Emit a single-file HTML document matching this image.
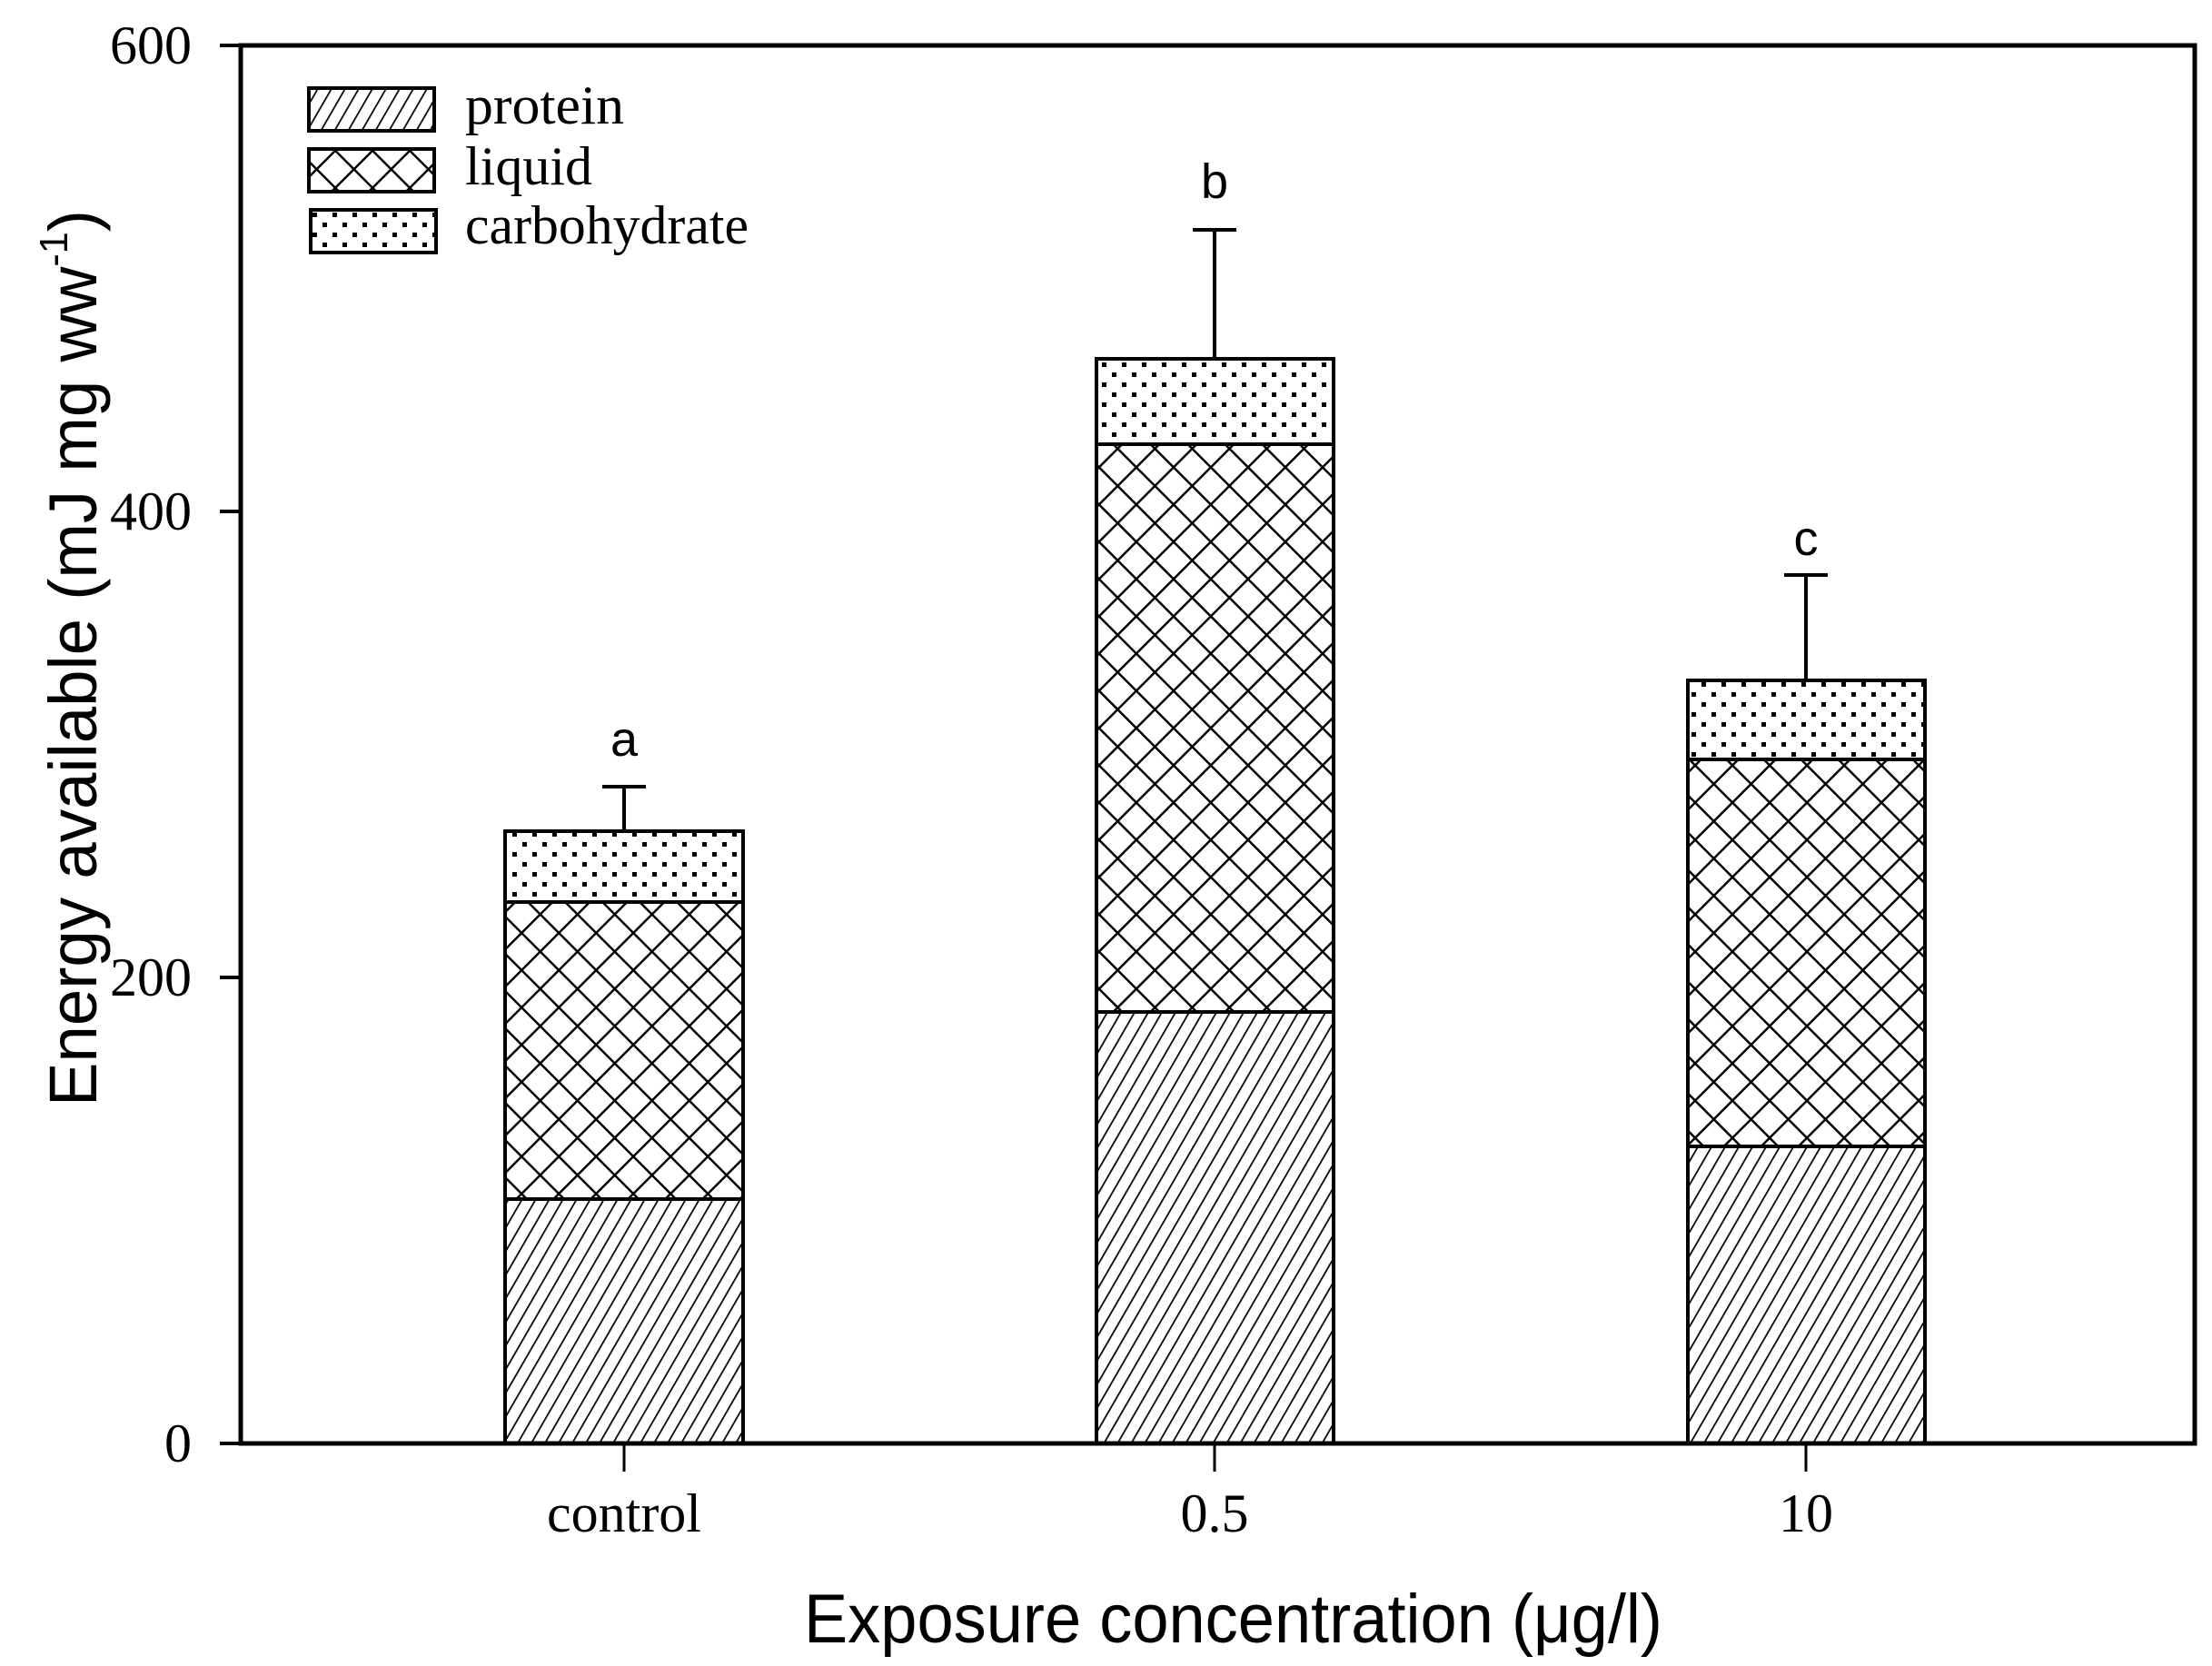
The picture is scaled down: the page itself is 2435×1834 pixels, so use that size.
<!DOCTYPE html>
<html><head><meta charset="utf-8"><style>html,body{margin:0;padding:0;background:#fff}</style></head>
<body>
<svg width="2435" height="1829" viewBox="0 0 2435 1829" xmlns="http://www.w3.org/2000/svg">
<defs>
<pattern id="hatch" patternUnits="userSpaceOnUse" width="13" height="20" patternTransform="rotate(30)">
<rect width="13" height="20" fill="#fff"/><line x1="0" y1="0" x2="0" y2="20" stroke="#000" stroke-width="3.5"/>
</pattern>
<pattern id="cross" patternUnits="userSpaceOnUse" width="29" height="29" patternTransform="rotate(45)">
<rect width="29" height="29" fill="#fff"/>
<line x1="0" y1="0" x2="29" y2="0" stroke="#000" stroke-width="5"/>
<line x1="0" y1="0" x2="0" y2="29" stroke="#000" stroke-width="5"/>
</pattern>
<pattern id="dots" patternUnits="userSpaceOnUse" width="22" height="22">
<rect width="22" height="22" fill="#fff"/>
<rect x="3" y="3" width="5" height="5" fill="#000"/>
<rect x="14" y="14" width="5" height="5" fill="#000"/>
</pattern>
</defs>
<g stroke="#000" stroke-width="4">
<rect x="556" y="1320" width="262" height="269" fill="url(#hatch)"/>
<rect x="556" y="993" width="262" height="327" fill="url(#cross)"/>
<rect x="556" y="915" width="262" height="78" fill="url(#dots)"/>
<rect x="1207" y="1114" width="261" height="475" fill="url(#hatch)"/>
<rect x="1207" y="489" width="261" height="625" fill="url(#cross)"/>
<rect x="1207" y="395" width="261" height="94" fill="url(#dots)"/>
<rect x="1858" y="1262" width="261" height="327" fill="url(#hatch)"/>
<rect x="1858" y="836" width="261" height="426" fill="url(#cross)"/>
<rect x="1858" y="749" width="261" height="87" fill="url(#dots)"/>
<line x1="687" y1="915" x2="687" y2="866"/><line x1="663" y1="866" x2="711" y2="866"/>
<line x1="1337" y1="395" x2="1337" y2="253"/><line x1="1313" y1="253" x2="1361" y2="253"/>
<line x1="1988" y1="749" x2="1988" y2="633"/><line x1="1964" y1="633" x2="2012" y2="633"/>
<rect x="265" y="50" width="2151" height="1539" fill="none" stroke-width="5"/>
<line x1="242" y1="50" x2="265" y2="50"/>
<line x1="242" y1="563" x2="265" y2="563"/>
<line x1="242" y1="1076" x2="265" y2="1076"/>
<line x1="242" y1="1589" x2="265" y2="1589"/>
<line x1="687" y1="1589" x2="687" y2="1620" stroke-width="3"/>
<line x1="1337" y1="1589" x2="1337" y2="1620" stroke-width="3"/>
<line x1="1988" y1="1589" x2="1988" y2="1620" stroke-width="3"/>
<rect x="340" y="97" width="138" height="47" fill="url(#hatch)"/>
<rect x="340" y="164" width="138" height="47" fill="url(#cross)"/>
<rect x="342" y="231" width="138" height="47" fill="url(#dots)"/>
</g>
<g font-family="Liberation Serif, serif" font-size="60" fill="#000">
<text x="211" y="70" text-anchor="end">600</text>
<text x="211" y="583" text-anchor="end">400</text>
<text x="211" y="1096" text-anchor="end">200</text>
<text x="211" y="1609" text-anchor="end">0</text>
<text x="687" y="1686" text-anchor="middle">control</text>
<text x="1337" y="1686" text-anchor="middle">0.5</text>
<text x="1988" y="1686" text-anchor="middle">10</text>
<text x="512" y="136" textLength="175" lengthAdjust="spacingAndGlyphs">protein</text>
<text x="512" y="203" textLength="140" lengthAdjust="spacingAndGlyphs">liquid</text>
<text x="512" y="268" textLength="312" lengthAdjust="spacingAndGlyphs">carbohydrate</text>
</g>
<g font-family="Liberation Sans, sans-serif" fill="#000">
<text x="687" y="832" font-size="54" text-anchor="middle">a</text>
<text x="1337" y="218" font-size="54" text-anchor="middle">b</text>
<text x="1988" y="611" font-size="54" text-anchor="middle">c</text>
<text x="885" y="1808" font-size="76" textLength="945" lengthAdjust="spacingAndGlyphs">Exposure concentration (μg/l)</text>
<text transform="translate(106,1218) rotate(-90)" font-size="74" textLength="987" lengthAdjust="spacingAndGlyphs">Energy available (mJ mg ww<tspan dy="-32" font-size="44">-1</tspan><tspan dy="32">)</tspan></text>
</g>
</svg>
</body></html>
